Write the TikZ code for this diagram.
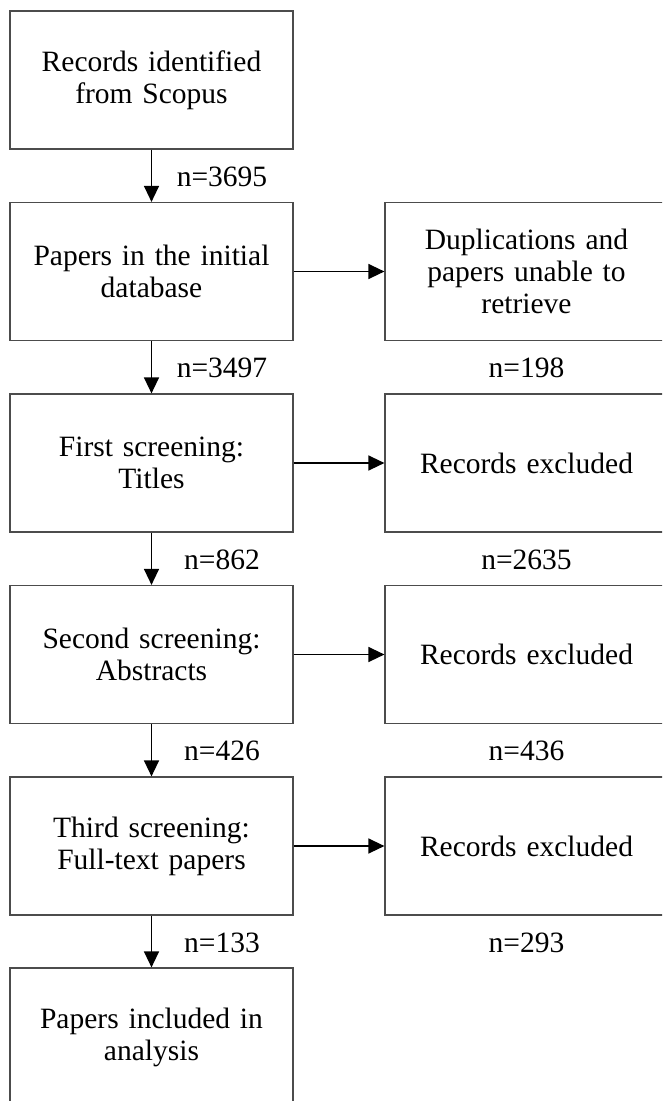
\documentclass[tikz,border=0pt]{standalone}
\usepackage{fontspec}
\setmainfont{Liberation Serif}
\usetikzlibrary{arrows.meta}
\begin{document}
\begin{tikzpicture}[x=1pt,y=-1pt,
  box/.style={draw=black!70, line width=1.2pt, minimum width=283pt, minimum height=138pt,
    text width=270pt, align=center, inner sep=0pt,
    font=\fontsize{29.5pt}{32pt}\selectfont},
  lbl/.style={font=\fontsize{29.5pt}{32pt}\selectfont, inner sep=0pt},
  arr/.style={line width=1.4pt, -{Triangle[width=15pt,length=16pt]}}]
\clip (0,0) rectangle (662,1101);
\fill[white] (0,0) rectangle (662,1101);
% left column
\node[box] (b1) at (151.5,80) {Records identified\\from Scopus};
\node[box] (b2) at (151.5,271.5) {Papers in the initial\\database};
\node[box] (b3) at (151.5,463) {First screening:\\Titles};
\node[box] (b4) at (151.5,654.5) {Second screening:\\Abstracts};
\node[box] (b5) at (151.5,846) {Third screening:\\Full-text papers};
\node[box] (b6) at (151.5,1037) {Papers included in\\analysis};
% right column
\node[box] (r2) at (526.5,271.5) {Duplications and\\papers unable to\\retrieve};
\node[box] (r3) at (526.5,463) {Records excluded};
\node[box] (r4) at (526.5,654.5) {Records excluded};
\node[box] (r5) at (526.5,846) {Records excluded};
% vertical arrows
\draw[arr] (b1) -- (b2);
\draw[arr] (b2) -- (b3);
\draw[arr] (b3) -- (b4);
\draw[arr] (b4) -- (b5);
\draw[arr] (b5) -- (b6);
% horizontal arrows
\draw[arr] (b2) -- (r2);
\draw[arr] (b3) -- (r3);
\draw[arr] (b4) -- (r4);
\draw[arr] (b5) -- (r5);
% labels
\node[lbl] (n1) at (222,177) {n=3695};
\node[lbl] (n2) at (222,368) {n=3497};
\node[lbl] (n3) at (222,560) {n=862};
\node[lbl] (n4) at (222,751) {n=426};
\node[lbl] (n5) at (222,943) {n=133};
\node[lbl] (m2) at (526.5,368) {n=198};
\node[lbl] (m3) at (526.5,560) {n=2635};
\node[lbl] (m4) at (526.5,751) {n=436};
\node[lbl] (m5) at (526.5,943) {n=293};
\end{tikzpicture}
\end{document}
